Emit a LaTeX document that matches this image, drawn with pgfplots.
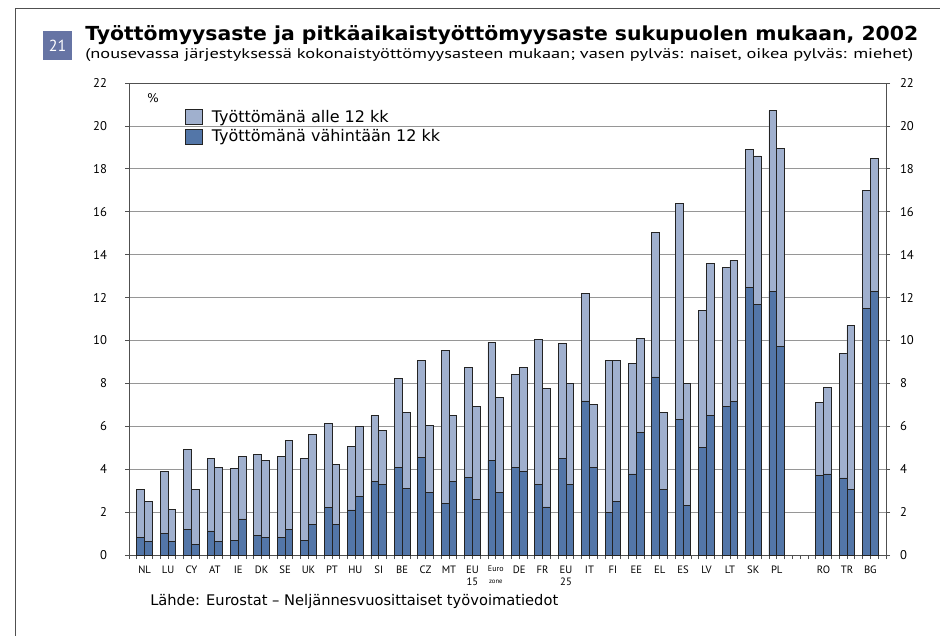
\documentclass[border=0pt]{standalone}
\usepackage{pgfplots}
\pgfplotsset{compat=1.18}
\usepackage{pgfplotstable}
\usepackage{fontspec}
\setmainfont{DejaVu Sans}
\newfontfamily\ptsans{PT Sans}
\definecolor{lightbar}{RGB}{160,176,206}
\definecolor{darkbar}{RGB}{83,118,168}
\definecolor{badge}{RGB}{102,116,164}
\definecolor{gridc}{RGB}{150,150,150}
\definecolor{axisc}{RGB}{80,80,80}
\definecolor{barline}{RGB}{35,35,35}

% x: position; wt/wl: women total / long-term; mt/ml: men total / long-term
\pgfplotstableread{
x wt wl mt ml
0 3.05 0.80 2.48 0.62
1 3.90 1.00 2.12 0.62
2 4.90 1.20 3.05 0.50
3 4.52 1.12 4.08 0.62
4 4.02 0.68 4.58 1.68
5 4.70 0.93 4.40 0.82
6 4.58 0.82 5.32 1.18
7 4.52 0.68 5.64 1.42
8 6.12 2.23 4.20 1.42
9 5.07 2.10 6.00 2.71
10 6.50 3.42 5.82 3.30
11 8.23 4.10 6.63 3.10
12 9.05 4.53 6.02 2.92
13 9.53 2.42 6.50 3.43
14 8.74 3.60 6.94 2.61
15 9.92 4.41 7.33 2.92
16 8.42 4.10 8.74 3.91
17 10.03 3.29 7.75 2.24
18 9.85 4.52 8.00 3.29
19 12.18 7.18 7.00 4.10
20 9.08 1.98 9.08 2.48
21 8.92 3.78 10.08 5.70
22 15.02 8.30 6.63 3.05
23 16.38 6.31 7.99 2.30
24 11.39 5.02 13.60 6.50
25 13.41 6.93 13.72 7.16
26 18.91 12.48 18.60 11.67
27 20.71 12.29 18.97 9.71
29 7.10 3.71 7.80 3.78
30 9.40 3.59 10.69 3.05
31 17.01 11.50 18.47 12.29
}\data

\begin{document}
\begin{tikzpicture}
\useasboundingbox (0,0) rectangle (705pt,-477pt);
\begin{scope}[x=0.75pt,y=-0.75pt]
\draw[axisc, line width=0.75pt] (15,640) -- (15,8) -- (945,8);
\fill[badge] (43,31) rectangle (72,60);
\node[white, font=\ptsans\fontsize{12}{12}\selectfont] at (57.5,45.5) {21};
\node[anchor=base west, inner sep=0] at (85,40) {\resizebox{624.75pt}{\height}{\fontsize{14.5}{16}\selectfont\bfseries Työttömyysaste ja pitkäaikaistyöttömyysaste sukupuolen mukaan, 2002}};
\node[anchor=base west, inner sep=0] at (85,58) {\resizebox{621pt}{\height}{\ptsans\fontsize{10.5}{12}\selectfont (nousevassa järjestyksessä kokonaistyöttömyysasteen mukaan; vasen pylväs: naiset, oikea pylväs: miehet)}};
\node[anchor=base west, inner sep=0, font=\fontsize{9}{10}\selectfont] at (147,102) {\%};
\node[anchor=base west, inner sep=0, font=\fontsize{11}{13}\selectfont] at (150,605) {Lähde: Eurostat – Neljännesvuosittaiset työvoimatiedot};
\end{scope}

\begin{axis}[
  at={(96.75pt,-416.25pt)}, anchor=south west,
  scale only axis, width=567.75pt, height=354pt,
  xmin=-0.66667, xmax=31.66667, ymin=0, ymax=22,
  ytick={0,2,...,22}, ytick pos=left,
  ymajorgrids, grid style={gridc, line width=0.6pt},
  axis line style={axisc, line width=0.75pt},
  xtick={0,...,27,29,30,31}, xtick pos=bottom,
  xticklabels={NL,LU,CY,AT,IE,DK,SE,UK,PT,HU,SI,BE,CZ,MT,{EU\\15},{\fontsize{6}{6}\selectfont Euro\\\fontsize{5}{5}\selectfont zone},DE,FR,{EU\\25},IT,FI,EE,EL,ES,LV,LT,SK,PL,RO,TR,BG},
  minor xtick={-0.66667,-0.33333,...,31.7},
  tick align=outside, major tick length=3pt, minor tick length=3pt,
  tick style={axisc, line width=0.6pt},
  /pgf/number format/assume math mode=true,
  yticklabel style={font=\ptsans\fontsize{9.5}{10}\selectfont, anchor=east, xshift=-10pt},
  xticklabel style={font=\ptsans\fontsize{8}{8.5}\selectfont, align=center, anchor=north, yshift=-2pt},
  bar width=0.33333,
  legend style={at={(0.074,0.947)}, anchor=north west, draw=none, fill=none,
    font=\fontsize{12}{14}\selectfont, row sep=1pt, inner sep=0pt,
    nodes={inner sep=1.5pt},
    /tikz/every odd column/.append style={column sep=5pt}},
  legend cell align=left,
  legend image code/.code={\draw[#1] (0pt,-5.6pt) rectangle (12.75pt,5.6pt);},
]
\addplot[ybar, bar shift=-0.16667, fill=lightbar, draw=barline, line width=0.6pt] table[x=x,y=wt]{\data};
\addlegendentry{Työttömänä alle 12 kk}
\addplot[ybar, bar shift=0.16667, fill=lightbar, draw=barline, line width=0.6pt, forget plot] table[x=x,y=mt]{\data};
\addplot[ybar, bar shift=-0.16667, fill=darkbar, draw=barline, line width=0.6pt] table[x=x,y=wl]{\data};
\addlegendentry{Työttömänä vähintään 12 kk}
\addplot[ybar, bar shift=0.16667, fill=darkbar, draw=barline, line width=0.6pt, forget plot] table[x=x,y=ml]{\data};
\end{axis}

\begin{axis}[
  at={(96.75pt,-416.25pt)}, anchor=south west,
  scale only axis, width=567.75pt, height=354pt,
  xmin=-0.66667, xmax=31.66667, ymin=0, ymax=22,
  axis x line=none, axis y line*=right,
  ytick={0,2,...,22},
  axis line style={axisc, line width=0.75pt},
  tick align=outside, major tick length=3pt,
  tick style={axisc, line width=0.6pt},
  /pgf/number format/assume math mode=true,
  yticklabel style={font=\ptsans\fontsize{9.5}{10}\selectfont, anchor=west, xshift=4pt},
]
\addplot[draw=none] coordinates {(0,0)};
\end{axis}
\end{tikzpicture}
\end{document}
